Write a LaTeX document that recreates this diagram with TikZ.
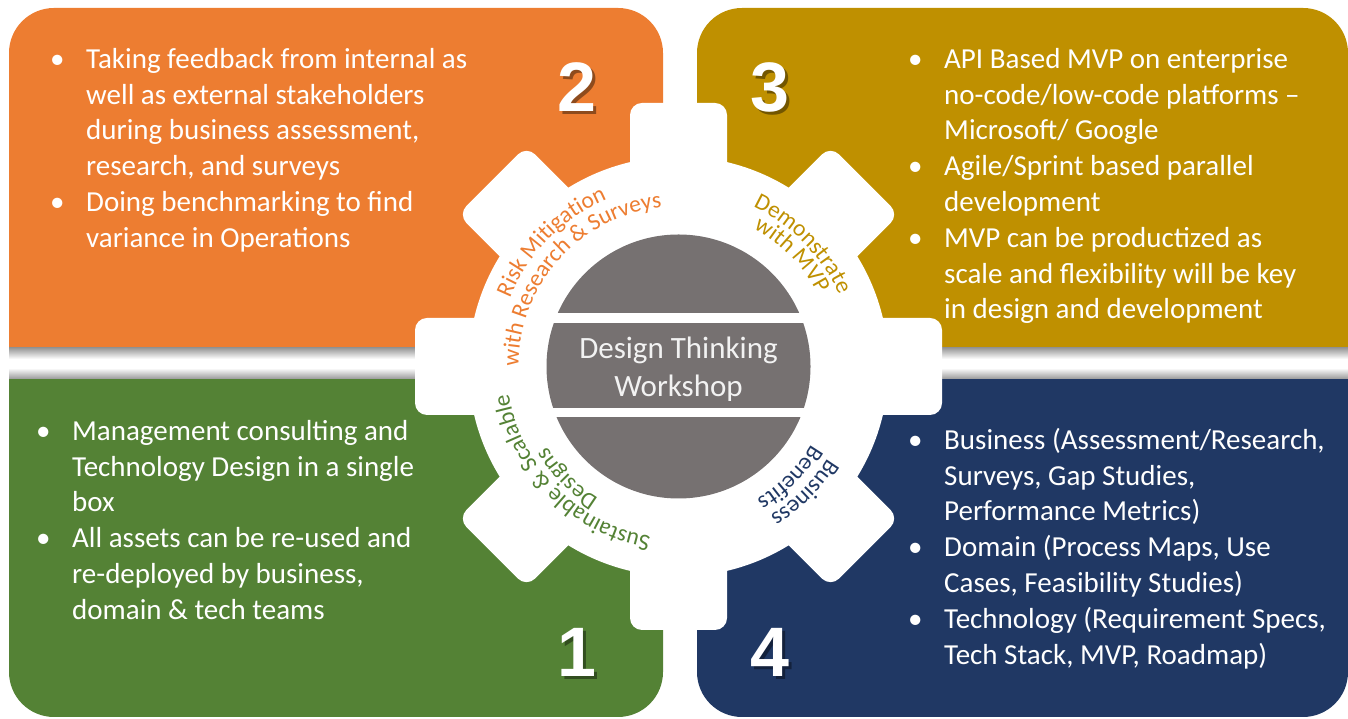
\documentclass[tikz,border=0pt]{standalone}
\usepackage{fontspec}
\setmainfont{Carlito}
\newfontfamily\numfont{Liberation Sans}
\usetikzlibrary{decorations.text}

\definecolor{cOrange}{HTML}{ED7D31}
\definecolor{cGold}{HTML}{BF9000}
\definecolor{cGreen}{HTML}{548235}
\definecolor{cNavy}{HTML}{203864}
\definecolor{cGray}{HTML}{767171}
\definecolor{cLight}{HTML}{F2F2F2}

\newcommand{\bl}{\makebox[36pt][l]{\textbullet}}
\newcommand{\ind}{\hspace*{36pt}}
\newcommand{\lblfont}{\fontsize{23.5}{27}\selectfont}

\begin{document}
\begin{tikzpicture}[x=1pt,y=1pt,
    panel text/.style={text=white,align=left,anchor=north west,inner sep=0pt,font=\fontsize{29}{35.8}\selectfont},
    big num/.style={text=white,anchor=base,inner sep=0pt,font=\numfont\bfseries\fontsize{70}{70}\selectfont},
    num shadow/.style={big num,text=black,text opacity=.4},
    arc label/.style={decorate,decoration={text along path,text align=center,text={#1}}}]

    \useasboundingbox (0,0) rectangle (1348,719);

    % the four panels
    \fill[cOrange] (9,371) -- (9,666) arc[start angle=180,end angle=90,radius=45] -- (618,711) arc[start angle=90,end angle=0,radius=45] -- (663,371) -- cycle;
    \fill[cGold] (697,371) -- (697,666) arc[start angle=180,end angle=90,radius=45] -- (1303,711) arc[start angle=90,end angle=0,radius=45] -- (1348,371) -- cycle;
    \fill[cGreen] (9,340) -- (9,47) arc[start angle=180,end angle=270,radius=45] -- (618,2) arc[start angle=270,end angle=360,radius=45] -- (663,340) -- cycle;
    \fill[cNavy] (697,340) -- (697,47) arc[start angle=180,end angle=270,radius=45] -- (1303,2) arc[start angle=270,end angle=360,radius=45] -- (1348,340) -- cycle;

    % shadows in the gap
    \shade[top color=black!40,bottom color=white] (9,360) rectangle (663,371);
    \shade[top color=black!40,bottom color=white] (697,360) rectangle (1348,371);
    \shade[top color=white,bottom color=black!40] (9,340) rectangle (663,351);
    \shade[top color=white,bottom color=black!40] (697,340) rectangle (1348,351);

    % panel texts
    \node[panel text] (t2) at (50,671) {\bl Taking feedback from internal as\\ \ind well as external stakeholders\\ \ind during business assessment,\\ \ind research, and surveys\\ \bl Doing benchmarking to find\\ \ind variance in Operations};
    \node[panel text] (t3) at (908,671) {\bl API Based MVP on enterprise\\ \ind no-code/low-code platforms --\\ \ind Microsoft/ Google\\ \bl Agile/Sprint based parallel\\ \ind development\\ \bl MVP can be productized as\\ \ind scale and flexibility will be key\\ \ind in design and development};
    \node[panel text] (t1) at (36,299) {\bl Management consulting and\\ \ind Technology Design in a single\\ \ind box\\ \bl All assets can be re-used and\\ \ind re-deployed by business,\\ \ind domain \& tech teams};
    \node[panel text] (t4) at (908,291) {\bl Business (Assessment/Research,\\ \ind Surveys, Gap Studies,\\ \ind Performance Metrics)\\ \bl Domain (Process Maps, Use\\ \ind Cases, Feasibility Studies)\\ \bl Technology (Requirement Specs,\\ \ind Tech Stack, MVP, Roadmap)};

    % big numbers
    \node[num shadow] (n2s) at (580,604) {2};
    \node[big num] (n2) at (577,607) {2};
    \node[num shadow] (n3s) at (773,604) {3};
    \node[big num] (n3) at (770,607) {3};
    \node[num shadow] (n1s) at (580,39) {1};
    \node[big num] (n1) at (577,42) {1};
    \node[num shadow] (n4s) at (773,39) {4};
    \node[big num] (n4) at (770,42) {4};

    % gear
    \begin{scope}[shift={(678.5,352.5)}]
        \fill[white] (0,0) circle (210);
        \foreach \a in {0,45,...,315}
            \fill[white,rounded corners=12,rotate=\a] (0,-48.5) rectangle (263.5,48.5);
        \fill[cGray] (0,0) circle (132);
        \fill[white] (-136,43.5) rectangle (136,53.5);
        \fill[white] (-136,-50.5) rectangle (136,-41.5);
        \node[text=cLight,align=center,font=\fontsize{31}{38}\selectfont] (hub) at (0,-2.5) {Design Thinking\\Workshop};

        \path[arc label={|\lblfont\color{cOrange}|Risk Mitigation}] (205.5:182) arc[start angle=205.5,end angle=65.5,radius=182];
        \path[arc label={|\lblfont\color{cOrange}|with Research {\&} Surveys}] (208:160) arc[start angle=208,end angle=68,radius=160];
        \path[arc label={|\lblfont\color{cGold}|Demonstrate}] (114.5:176) arc[start angle=114.5,end angle=-25.5,radius=176];
        \path[arc label={|\lblfont\color{cGold}|with MVP}] (114.5:157) arc[start angle=114.5,end angle=-25.5,radius=157];
        \path[arc label={|\lblfont\color{cGreen}|Sustainable {\&} Scalable}] (295:172) arc[start angle=295,end angle=155,radius=172];
        \path[arc label={|\lblfont\color{cGreen}|Designs}] (295:154) arc[start angle=295,end angle=155,radius=154];
        \path[arc label={|\lblfont\color{cNavy}|Business}] (25:175) arc[start angle=25,end angle=-115,radius=175];
        \path[arc label={|\lblfont\color{cNavy}|Benefits}] (25:154) arc[start angle=25,end angle=-115,radius=154];
    \end{scope}
\end{tikzpicture}
\end{document}
